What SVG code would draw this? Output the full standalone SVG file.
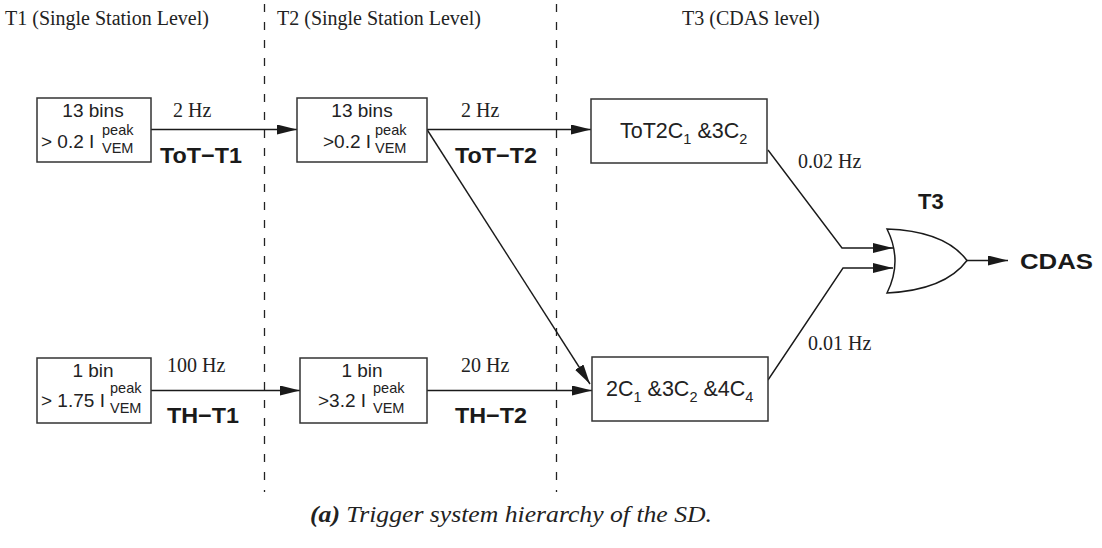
<svg xmlns="http://www.w3.org/2000/svg" width="1102" height="548" viewBox="0 0 1102 548">
  <defs>
    <marker id="arrow" viewBox="0 0 20 10" refX="20" refY="5" markerWidth="20" markerHeight="10" markerUnits="userSpaceOnUse" orient="auto">
      <path d="M0,0 L20,5 L0,10 Z" fill="#1a1a1a"/>
    </marker>
    <style>
      .box { fill: #fff; stroke: #333; stroke-width: 1.5; }
      .wire { fill: none; stroke: #1a1a1a; stroke-width: 1.4; }
      .divider { stroke: #222; stroke-width: 1.3; stroke-dasharray: 8 10; }
      .serif { font-family: "Liberation Serif", "Times New Roman", serif; font-size: 20px; fill: #222; }
      .sans { font-family: "Liberation Sans", Arial, sans-serif; font-size: 19px; fill: #222; }
      .big { font-family: "Liberation Sans", Arial, sans-serif; font-size: 21.5px; fill: #222; }
      .bold { font-family: "Liberation Sans", Arial, sans-serif; font-size: 22px; font-weight: bold; fill: #1a1a1a; }
      .sup { font-size: 14.5px; }
      .caption { font-family: "Liberation Serif", "Times New Roman", serif; font-size: 24px; font-style: italic; fill: #222; }
    </style>
  </defs>

  <!-- level separators -->
  <g id="dividers">
    <line class="divider" x1="264.5" y1="4" x2="264.5" y2="492"/>
    <line class="divider" x1="556.5" y1="4" x2="556.5" y2="492"/>
  </g>

  <!-- level headings -->
  <g id="headings">
    <text class="serif" x="5" y="25">T1 (Single Station Level)</text>
    <text class="serif" x="277" y="25">T2 (Single Station Level)</text>
    <text class="serif" x="682" y="25">T3 (CDAS level)</text>
  </g>

  <!-- connectors -->
  <g id="connectors">
    <line class="wire" x1="151" y1="129.5" x2="297" y2="129.5" marker-end="url(#arrow)"/>
    <line class="wire" x1="427" y1="129.5" x2="591" y2="129.5" marker-end="url(#arrow)"/>
    <line class="wire" x1="427" y1="129.5" x2="590" y2="384" marker-end="url(#arrow)"/>
    <line class="wire" x1="151" y1="390.5" x2="300" y2="390.5" marker-end="url(#arrow)"/>
    <line class="wire" x1="427" y1="390.5" x2="592" y2="390.5" marker-end="url(#arrow)"/>
    <polyline class="wire" points="768,150 842,248 893,248" marker-end="url(#arrow)"/>
    <polyline class="wire" points="768,380 843,268 893,268" marker-end="url(#arrow)"/>
    <line class="wire" x1="967" y1="260.5" x2="1008" y2="260.5" marker-end="url(#arrow)"/>
  </g>

  <!-- T1 ToT -->
  <g id="tot-t1">
    <rect class="box" x="37" y="98" width="114" height="64"/>
    <text class="sans" x="93" y="117" text-anchor="middle">13 bins</text>
    <text class="sans" x="41" y="148">&gt; 0.2 I</text>
    <text class="sans sup" x="102" y="135">peak</text>
    <text class="sans sup" x="102" y="153">VEM</text>
    <text class="serif" x="173" y="117">2 Hz</text>
    <text class="bold" x="160" y="163" textLength="82" lengthAdjust="spacingAndGlyphs">ToT−T1</text>
  </g>

  <!-- T2 ToT -->
  <g id="tot-t2">
    <rect class="box" x="297" y="98" width="130" height="64"/>
    <text class="sans" x="362" y="117" text-anchor="middle">13 bins</text>
    <text class="sans" x="323" y="148">&gt;0.2 I</text>
    <text class="sans sup" x="375" y="135">peak</text>
    <text class="sans sup" x="375" y="153">VEM</text>
    <text class="serif" x="461" y="117">2 Hz</text>
    <text class="bold" x="455" y="163" textLength="82" lengthAdjust="spacingAndGlyphs">ToT−T2</text>
  </g>

  <!-- T3 ToT condition -->
  <g id="tot-t3">
    <rect class="box" x="591" y="99" width="176" height="64"/>
    <text class="big" x="620" y="138">ToT2C<tspan class="sup" dy="6">1</tspan><tspan dy="-6"> &amp;3C</tspan><tspan class="sup" dy="6">2</tspan></text>
    <text class="serif" x="798" y="168">0.02 Hz</text>
  </g>

  <!-- T1 threshold -->
  <g id="th-t1">
    <rect class="box" x="37" y="358" width="114" height="65"/>
    <text class="sans" x="93" y="377" text-anchor="middle">1 bin</text>
    <text class="sans" x="41" y="407">&gt; 1.75 I</text>
    <text class="sans sup" x="110" y="393">peak</text>
    <text class="sans sup" x="110" y="413">VEM</text>
    <text class="serif" x="167" y="372">100 Hz</text>
    <text class="bold" x="167" y="423" textLength="72" lengthAdjust="spacingAndGlyphs">TH−T1</text>
  </g>

  <!-- T2 threshold -->
  <g id="th-t2">
    <rect class="box" x="300" y="358" width="127" height="65"/>
    <text class="sans" x="362" y="377" text-anchor="middle">1 bin</text>
    <text class="sans" x="318" y="407">&gt;3.2 I</text>
    <text class="sans sup" x="373" y="393">peak</text>
    <text class="sans sup" x="373" y="413">VEM</text>
    <text class="serif" x="461" y="372">20 Hz</text>
    <text class="bold" x="455" y="423" textLength="72" lengthAdjust="spacingAndGlyphs">TH−T2</text>
  </g>

  <!-- T3 threshold condition -->
  <g id="th-t3">
    <rect class="box" x="592" y="357" width="176" height="64"/>
    <text class="big" x="606" y="396">2C<tspan class="sup" dy="6">1</tspan><tspan dy="-6"> &amp;3C</tspan><tspan class="sup" dy="6">2</tspan><tspan dy="-6"> &amp;4C</tspan><tspan class="sup" dy="6">4</tspan></text>
    <text class="serif" x="808" y="350">0.01 Hz</text>
  </g>

  <!-- T3 OR gate -->
  <g id="t3-gate">
    <path d="M887,229 Q903,261 887,293 Q945,290 967,260.5 Q945,231 887,229 Z" fill="#fff" stroke="#1a1a1a" stroke-width="1.5"/>
    <text class="bold" x="918" y="209">T3</text>
  </g>

  <g id="cdas">
    <text class="bold" x="1020" y="269" font-size="24" textLength="73" lengthAdjust="spacingAndGlyphs">CDAS</text>
  </g>

  <!-- caption -->
  <g id="caption">
    <text class="caption" x="310" y="522" textLength="402" lengthAdjust="spacingAndGlyphs"><tspan font-weight="bold">(a)</tspan> Trigger system hierarchy of the SD.</text>
  </g>
</svg>
